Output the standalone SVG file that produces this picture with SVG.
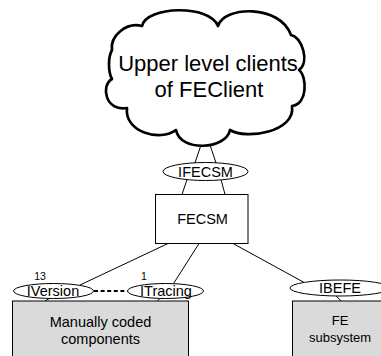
<svg xmlns="http://www.w3.org/2000/svg" width="381" height="356" viewBox="0 0 381 356">
  <style>
    text { font-family: "Liberation Sans", Arial, Helvetica, sans-serif; fill: #000; text-anchor: middle; }
    .lbl { font-size: 14.5px; }
    .big { font-size: 22px; }
    .mult { font-size: 10.5px; }
    .iface { fill: #fff; stroke: #000; stroke-width: 1; }
    .box { fill: #fff; stroke: #000; stroke-width: 1; }
    .comp { fill: #dadada; stroke: #000; stroke-width: 1; }
    .wire { stroke: #000; stroke-width: 1; fill: none; }
    .dots { stroke: #000; stroke-width: 2; stroke-dasharray: 4 2.6; fill: none; }
  </style>

  <g id="connectors">
    <!-- cloud to IFECSM -->
    <line class="wire" x1="201" y1="145" x2="195" y2="162.8"/>
    <line class="wire" x1="210" y1="145" x2="216" y2="162.8"/>
    <!-- IFECSM to FECSM -->
    <line class="wire" x1="187" y1="179.6" x2="182" y2="194.5"/>
    <line class="wire" x1="221" y1="179.4" x2="225" y2="194.5"/>
    <!-- FECSM to lower interfaces -->
    <line class="wire" x1="168" y1="243.5" x2="80" y2="285"/>
    <line class="wire" x1="199" y1="243.5" x2="173.5" y2="283.6"/>
    <line class="wire" x1="233" y1="243.5" x2="304" y2="282.4"/>
    <!-- interfaces to components -->
    <line class="wire" x1="49.5" y1="298.4" x2="45" y2="301"/>
    <line class="wire" x1="160" y1="298.4" x2="157.5" y2="301"/>
    <line class="wire" x1="336" y1="295.8" x2="341" y2="301"/>
    <!-- IVersion .. ITracing dependency -->
    <line class="dots" x1="94" y1="291" x2="127.5" y2="291"/>
  </g>

  <g id="clients-cloud">
    <path d="M 112,50 C 110,36 126,22 142,26 C 146,6 210,4 218,26 C 224,6 280,4 291,35 C 302,37 310,62 299,70 C 307,76 308,104 292,106 C 296,132 246,140 230,130 C 226,150 180,152 176,130 C 160,142 124,132 127,108 C 106,112 100,86 112,79 C 108,72 108,57 112,50 Z" fill="#fff" stroke="#000" stroke-width="2.7" stroke-linejoin="round"/>
    <text class="big" x="208" y="70.7">Upper level clients</text>
    <text class="big" x="209" y="96.7">of FEClient</text>
  </g>

  <g id="ifecsm">
    <ellipse class="iface" cx="205.5" cy="171.5" rx="42.5" ry="9"/>
    <text class="lbl" x="205.5" y="177.3">IFECSM</text>
  </g>

  <g id="fecsm">
    <rect class="box" x="155.5" y="194.5" width="92.5" height="49"/>
    <text class="lbl" x="202.5" y="223.5">FECSM</text>
  </g>

  <g id="iversion">
    <ellipse class="iface" cx="53.5" cy="291" rx="40" ry="7.5"/>
    <text class="lbl" x="53" y="295.5">IVersion</text>
    <text class="mult" x="40" y="280">13</text>
  </g>

  <g id="itracing">
    <ellipse class="iface" cx="165.5" cy="291" rx="38" ry="7.5"/>
    <text class="lbl" x="166" y="295.5">ITracing</text>
    <text class="mult" x="144" y="280">1</text>
  </g>

  <g id="ibefe">
    <ellipse class="iface" cx="340" cy="288" rx="50" ry="8"/>
    <text class="lbl" x="340" y="293.3">IBEFE</text>
  </g>

  <g id="manual-components">
    <rect class="comp" x="12.5" y="301" width="176" height="60"/>
    <text class="lbl" x="100.5" y="326.5">Manually coded</text>
    <text class="lbl" x="100.5" y="343.5">components</text>
  </g>

  <g id="fe-subsystem">
    <rect class="comp" x="292.5" y="301" width="100" height="60"/>
    <text class="lbl" x="340" y="325" style="font-size:13px">FE</text>
    <text class="lbl" x="340" y="342" style="font-size:13px">subsystem</text>
  </g>
</svg>
